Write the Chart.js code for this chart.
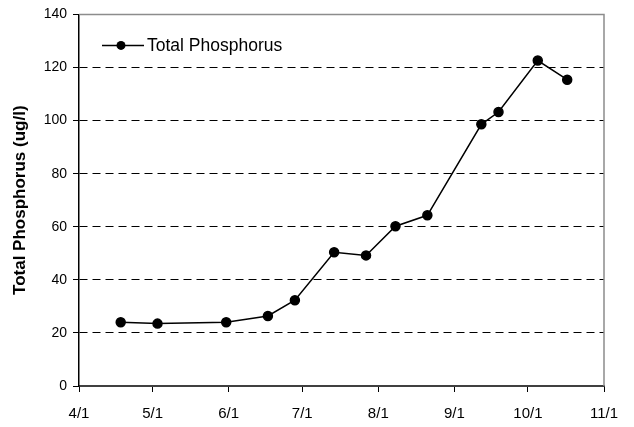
<!DOCTYPE html>
<html>
<head>
<meta charset="utf-8">
<script src="https://cdn.jsdelivr.net/npm/chart.js@4/dist/chart.umd.min.js"></script>
<style>
  html, body { margin: 0; padding: 0; background: #fff; }
  #wrap { width: 634px; height: 427px; }
</style>
</head>
<body>
<div id="wrap"><canvas id="tpChart"></canvas></div>
<script>
// sample dates (month-day) and total phosphorus values, ug/l
const sampleDates = ['04-18', '05-03', '05-31', '06-17', '06-28', '07-14', '07-27',
                     '08-08', '08-21', '09-12', '09-19', '10-05', '10-17'];
const tpValues = [24, 23.5, 24, 26.4, 32.3, 50.4, 49.2, 60.2, 64.3, 98.6, 103.2, 122.6, 115.4];

// x axis ticks: first of each month
const monthStarts = ['04-01', '05-01', '06-01', '07-01', '08-01', '09-01', '10-01', '11-01'];
const monthLabels = ['4/1', '5/1', '6/1', '7/1', '8/1', '9/1', '10/1', '11/1'];
const yTicks = [0, 20, 40, 60, 80, 100, 120, 140];

// days since 4/1
function dayNum(md) {
  const [m, d] = md.split('-').map(Number);
  return (Date.UTC(2001, m - 1, d) - Date.UTC(2001, 3, 1)) / 86400000;
}
const monthDays = monthStarts.map(dayNum);

const font = "'Liberation Sans', Arial, sans-serif";

const frame = {
  id: 'frame',
  beforeDatasetsDraw(chart) {
    const {ctx, chartArea: a} = chart;
    ctx.save();
    ctx.strokeStyle = '#8c8c8c';
    ctx.lineWidth = 1.5;
    ctx.beginPath();
    ctx.moveTo(a.left, a.top);
    ctx.lineTo(a.right, a.top);
    ctx.lineTo(a.right, a.bottom);
    ctx.stroke();
    ctx.restore();
  },
  afterDraw(chart) {
    // legend: line with marker, inside the plot
    const {ctx, chartArea: a} = chart;
    const y = a.top + 31;
    const x0 = a.left + 23;
    ctx.save();
    ctx.strokeStyle = '#000';
    ctx.lineWidth = 1.5;
    ctx.beginPath();
    ctx.moveTo(x0, y);
    ctx.lineTo(x0 + 42, y);
    ctx.stroke();
    ctx.fillStyle = '#000';
    ctx.beginPath();
    ctx.arc(x0 + 19, y, 4.5, 0, Math.PI * 2);
    ctx.fill();
    ctx.font = '17.5px ' + font;
    ctx.textBaseline = 'middle';
    ctx.fillText(chart.data.datasets[0].label, x0 + 45, y + 1);
    ctx.restore();
  }
};

new Chart(document.getElementById('tpChart'), {
  type: 'line',
  data: {
    datasets: [{
      label: 'Total Phosphorus',
      data: sampleDates.map((d, i) => ({x: dayNum(d), y: tpValues[i]})),
      borderColor: '#000',
      backgroundColor: '#000',
      borderWidth: 1.5,
      pointRadius: 4.5,
      pointHoverRadius: 4.5,
      tension: 0
    }]
  },
  options: {
    responsive: true,
    maintainAspectRatio: false,
    animation: false,
    layout: {padding: {top: 14, right: 30, left: 0, bottom: 0}},
    plugins: {legend: {display: false}, tooltip: {enabled: false}},
    scales: {
      x: {
        type: 'linear',
        min: monthDays[0],
        max: monthDays[monthDays.length - 1],
        afterBuildTicks: s => { s.ticks = monthDays.map(v => ({value: v})); },
        afterFit: s => { s.height = 41; },
        ticks: {
          callback: v => monthLabels[monthDays.indexOf(v)],
          color: '#000',
          font: {family: font, size: 15},
          padding: 13,
          maxRotation: 0,
          autoSkip: false
        },
        grid: {drawOnChartArea: false, tickLength: 6, tickColor: '#000', color: '#000'},
        border: {color: '#404040', width: 2}
      },
      y: {
        min: 0,
        max: 140,
        afterBuildTicks: s => { s.ticks = yTicks.map(v => ({value: v})); },
        afterFit: s => { s.width = 79; },
        ticks: {color: '#000', font: {family: font, size: 14}, padding: 6},
        grid: {
          color: c => (c.tick.value === 0 || c.tick.value === 140) ? 'rgba(0,0,0,0)' : '#000',
          tickColor: '#000',
          tickLength: 6,
          lineWidth: 1
        },
        border: {color: '#000', width: 1.5, dash: [8, 5]},
        title: {
          display: true,
          text: 'Total Phosphorus (ug/l)',
          color: '#000',
          font: {family: font, size: 17, weight: 'bold'},
          padding: {top: 10, bottom: 0}
        }
      }
    }
  },
  plugins: [frame]
});
</script>
</body>
</html>
